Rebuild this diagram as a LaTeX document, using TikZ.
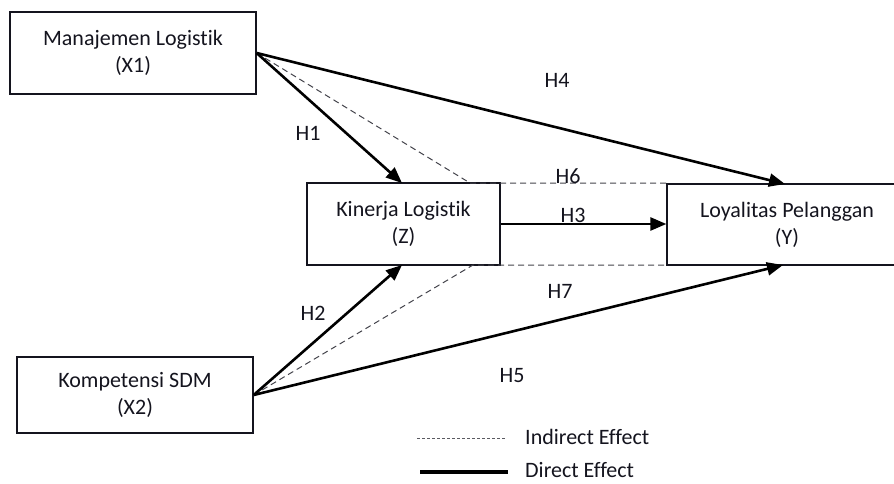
\documentclass[tikz,border=0pt]{standalone}
\usepackage{fontspec}
\setmainfont{Carlito}[RawFeature=-liga]
\usetikzlibrary{arrows.meta}
\definecolor{ink}{HTML}{14141E}
\begin{document}
\begin{tikzpicture}[x=1pt,y=-1pt,
  box/.style={draw=ink,line width=1.3pt,inner sep=0pt,align=center,
    font=\fontsize{22}{27}\selectfont,text=ink},
  lbl/.style={font=\fontsize{22}{26}\selectfont,text=ink,inner sep=0pt},
  direct/.style={draw=black,line width=2.6pt,-{Triangle[length=16pt,width=13pt]}},
  indirect/.style={draw=ink!80,line width=1pt,dash pattern=on 6pt off 4pt},
  legdash/.style={draw=ink!70,line width=0.9pt,dash pattern=on 3pt off 2pt},
  legsolid/.style={draw=black,line width=4pt}]
\useasboundingbox (0,0) rectangle (894,484);
\clip (0,0) rectangle (894,484);
\node[box,minimum width=246pt,minimum height=82pt] (x1) at (133,53) {Manajemen Logistik\\(X1)};
\node[box,minimum width=236pt,minimum height=76pt] (x2) at (135,395) {Kompetensi SDM\\(X2)};
\node[box,minimum width=193pt,minimum height=82pt] (z) at (403.5,224) {Kinerja Logistik\\(Z)};
\node[box,minimum width=240pt,minimum height=81pt] (y) at (787,224.5) {Loyalitas Pelanggan\\(Y)};
% apex coordinates
\coordinate (a1) at (x1.east);
\coordinate (a2) at (x2.east);
\coordinate (d1) at (470,183);
\coordinate (d2) at (473,265);
\coordinate (yt) at (785,184);
\coordinate (yb) at (783,265);
% indirect
\draw[indirect] (a1) -- (d1) -- (d1 -| y.west);
\draw[indirect] (a2) -- (d2) -- (d2 -| y.west);
% direct
\draw[direct] (a1) -- (402,183);
\draw[direct] (a2) -- (402,265);
\draw[direct] (a1) -- (yt);
\draw[direct] (a2) -- (yb);
\draw[direct] (z.east) -- (y.west |- z.east);
% labels
\node[lbl] (h1) at (308,133) {H1};
\node[lbl] (h2) at (313,313) {H2};
\node[lbl] (h3) at (573,215) {H3};
\node[lbl] (h4) at (557,80) {H4};
\node[lbl] (h5) at (512,376) {H5};
\node[lbl] (h6) at (568,176) {H6};
\node[lbl] (h7) at (560,291) {H7};
% legend
\coordinate (l1a) at (417,438);
\coordinate (l1b) at (505,438);
\coordinate (l2a) at (420,472);
\coordinate (l2b) at (508,472);
\draw[legdash] (l1a) -- (l1b);
\draw[legsolid] (l2a) -- (l2b);
\node[lbl,anchor=west] (li) at (525,437) {Indirect Effect};
\node[lbl,anchor=west] (ld) at (525,470) {Direct Effect};
\end{tikzpicture}
\end{document}
